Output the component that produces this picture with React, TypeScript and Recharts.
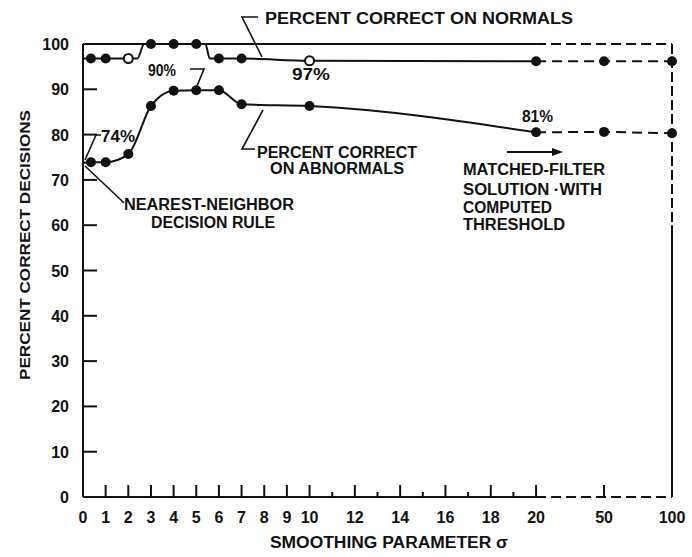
import { ComposedChart, Line, XAxis, YAxis, ReferenceLine } from 'recharts';

// sigma values as printed on the x axis; 20..100 is compressed on the original plot
const sigmaNormals = [0, 0.35, 1, 2, 2.4, 2.7, 3, 4, 5, 5.4, 5.6, 6, 7, 10, 20];
const normals = [96.8, 96.8, 96.8, 96.8, 96.8, 100, 100, 100, 100, 100, 96.8, 96.8, 96.8, 96.3, 96.2];
const normalsMarks = ['', 'f', 'f', 'o', '', '', 'f', 'f', 'f', '', '', 'f', 'f', 'o', 'f'];

const sigmaNormalsMF = [20, 50, 100];
const normalsMF = [96.2, 96.2, 96.2];
const normalsMFMarks = ['', 'f', 'f'];

const sigmaAbnormals = [0, 0.35, 1, 2, 3, 4, 5, 6, 7, 10, 20];
const abnormals = [73.8, 73.9, 73.9, 75.7, 86.3, 89.7, 89.8, 89.8, 86.7, 86.3, 80.5];
const abnormalsMarks = ['', 'f', 'f', 'f', 'f', 'f', 'f', 'f', 'f', 'f', 'f'];

const sigmaAbnormalsMF = [20, 50, 100];
const abnormalsMF = [80.5, 80.6, 80.3];
const abnormalsMFMarks = ['', 'f', 'f'];

const xTicks = [0, 1, 2, 3, 4, 5, 6, 7, 8, 9, 10, 11, 12, 13, 14, 15, 16, 17, 18, 19, 20, 50, 100];
const xTickLabels = ['0', '1', '2', '3', '4', '5', '6', '7', '8', '9', '10', '', '12', '', '14', '', '16', '', '18', '', '20', '50', '100'];
const yTicks = [0, 10, 20, 30, 40, 50, 60, 70, 80, 90, 100];
const yTicksRight = [10, 20, 30, 40, 50, 60, 70, 80, 90];

const W = 692;
const H = 557;
const PL = 83;
const PR = 672;
const PB = 497;
const INK = '#111';
const FONT = '"Liberation Sans", Arial, sans-serif';

// piecewise axis: linear up to 20, then 50 and 100 squeezed in
const toAxis = (s: number) =>
  s <= 20 ? s : s <= 50 ? 20 + ((s - 20) / 30) * 3 : 23 + ((s - 50) / 50) * 3;

const build = (sig: number[], vals: number[], marks: string[]) =>
  sig.map((s, i) => ({ x: toAxis(s), y: vals[i], m: marks[i] }));

const normalsData = build(sigmaNormals, normals, normalsMarks);
const normalsMFData = build(sigmaNormalsMF, normalsMF, normalsMFMarks);
const abnormalsData = build(sigmaAbnormals, abnormals, abnormalsMarks);
const abnormalsMFData = build(sigmaAbnormalsMF, abnormalsMF, abnormalsMFMarks);
const xTickPos = xTicks.map(toAxis);

const renderDot = (props: any) => {
  const { cx, cy, payload, index } = props;
  const k = `d${index}`;
  if (!payload || !payload.m) return <g key={k} />;
  if (payload.m === 'o')
    return <circle key={k} cx={cx} cy={cy} r={4.5} fill="#fff" stroke={INK} strokeWidth={2} />;
  return <circle key={k} cx={cx} cy={cy} r={5} fill={INK} />;
};

const XTick = (props: any) => {
  const { x, payload } = props;
  const i = xTickPos.findIndex((p) => Math.abs(p - payload.value) < 1e-6);
  const label = xTickLabels[i] ?? '';
  const len = label ? 12 : 5;
  return (
    <g>
      {payload.value > 0 && (
        <line x1={x} x2={x} y1={PB} y2={PB - len} stroke={INK} strokeWidth={2} />
      )}
      <text x={x} y={523} textAnchor="middle" fontSize={16} fontWeight={700} fontFamily={FONT} fill={INK}>
        {label}
      </text>
    </g>
  );
};

const YTick = (props: any) => {
  const { y, payload } = props;
  return (
    <g>
      {payload.value > 0 && payload.value < 100 && (
        <line x1={PL} x2={PL + 14} y1={y} y2={y} stroke={INK} strokeWidth={2} />
      )}
      <text x={69} y={y + 6} textAnchor="end" fontSize={16} fontWeight={700} fontFamily={FONT} fill={INK}>
        {payload.value}
      </text>
    </g>
  );
};

const RTick = (props: any) => {
  const { y } = props;
  return <line x1={PR} x2={PR - 12} y1={y} y2={y} stroke={INK} strokeWidth={2} />;
};

const T = ({ x, y, len, children, size = 16 }: any) => (
  <text
    x={x}
    y={y}
    textLength={len}
    lengthAdjust="spacingAndGlyphs"
    fontSize={size}
    fontWeight={700}
    fontFamily={FONT}
    fill={INK}
  >
    {children}
  </text>
);

export default function App() {
  return (
    <div style={{ position: 'absolute', left: 0, top: 0, width: W, height: H, background: '#fff' }}>
      <ComposedChart width={W} height={H} margin={{ top: 44, right: 0, bottom: 30, left: 23 }}>
        <XAxis
          dataKey="x"
          type="number"
          domain={[0, 26]}
          ticks={xTickPos}
          interval={0}
          axisLine={false}
          tickLine={false}
          tick={(p: any) => <XTick {...p} />}
          height={30}
          allowDuplicatedCategory={false}
        />
        <YAxis
          yAxisId="l"
          type="number"
          domain={[0, 100]}
          ticks={yTicks}
          interval={0}
          axisLine={false}
          tickLine={false}
          tick={(p: any) => <YTick {...p} />}
          width={60}
        />
        <YAxis
          yAxisId="r"
          orientation="right"
          type="number"
          domain={[0, 100]}
          ticks={yTicksRight}
          interval={0}
          axisLine={false}
          tickLine={false}
          tick={(p: any) => <RTick {...p} />}
          width={20}
        />

        {/* frame */}
        <ReferenceLine yAxisId="l" segment={[{ x: 0, y: 0 }, { x: 0, y: 100 }]} stroke={INK} strokeWidth={2} />
        <ReferenceLine yAxisId="l" segment={[{ x: 0, y: 0 }, { x: 20, y: 0 }]} stroke={INK} strokeWidth={2} />
        <ReferenceLine yAxisId="l" segment={[{ x: 20, y: 0 }, { x: 26, y: 0 }]} stroke={INK} strokeWidth={2} strokeDasharray="10 5" />
        <ReferenceLine yAxisId="l" segment={[{ x: 0, y: 100 }, { x: 20, y: 100 }]} stroke={INK} strokeWidth={2} />
        <ReferenceLine yAxisId="l" segment={[{ x: 20, y: 100 }, { x: 26, y: 100 }]} stroke={INK} strokeWidth={2} strokeDasharray="10 5" />
        <ReferenceLine yAxisId="l" segment={[{ x: 26, y: 100 }, { x: 26, y: 60 }]} stroke={INK} strokeWidth={2} strokeDasharray="10 4" />
        <ReferenceLine yAxisId="l" segment={[{ x: 26, y: 60 }, { x: 26, y: 0 }]} stroke={INK} strokeWidth={2} />

        <Line yAxisId="l" data={normalsData} dataKey="y" type="monotone" stroke={INK} strokeWidth={2} dot={renderDot} activeDot={false} isAnimationActive={false} />
        <Line yAxisId="l" data={normalsMFData} dataKey="y" type="linear" stroke={INK} strokeWidth={2} strokeDasharray="10 6" dot={renderDot} activeDot={false} isAnimationActive={false} />
        <Line yAxisId="l" data={abnormalsData} dataKey="y" type="monotone" stroke={INK} strokeWidth={2} dot={renderDot} activeDot={false} isAnimationActive={false} />
        <Line yAxisId="l" data={abnormalsMFData} dataKey="y" type="linear" stroke={INK} strokeWidth={2} strokeDasharray="10 6" dot={renderDot} activeDot={false} isAnimationActive={false} />
      </ComposedChart>

      <svg width={W} height={H} style={{ position: 'absolute', left: 0, top: 0, pointerEvents: 'none' }}>
        <g fill="none" stroke={INK} strokeWidth={1.6}>
          <polyline points="258,17 242,17 262,57" />
          <polyline points="190,69 204,69 197,86" />
          <polyline points="101,135 96,135 85,160" />
          <polyline points="255,149 242,149 263,110" />
          <polyline points="85,166 121,200 124,203" />
          <line x1={507} y1={152} x2={554} y2={152} strokeWidth={2} />
        </g>
        <polygon points="552,148 563,152 552,156" fill={INK} />

        <T x={265} y={24} len={308}>PERCENT CORRECT ON NORMALS</T>
        <T x={148} y={76} len={28}>90%</T>
        <T x={292} y={80} len={38}>97%</T>
        <T x={101} y={142} len={34}>74%</T>
        <T x={257} y={158} len={160}>PERCENT CORRECT</T>
        <T x={270} y={174} len={134}>ON ABNORMALS</T>
        <T x={124} y={210} len={170}>NEAREST-NEIGHBOR</T>
        <T x={151} y={228} len={124}>DECISION RULE</T>
        <T x={522} y={122} len={31}>81%</T>
        <T x={463} y={175} len={142}>MATCHED-FILTER</T>
        <T x={463} y={195} len={139}>SOLUTION ·WITH</T>
        <T x={463} y={213} len={89}>COMPUTED</T>
        <T x={463} y={230} len={102}>THRESHOLD</T>
        <T x={270} y={548} len={238}>SMOOTHING PARAMETER σ</T>
        <g transform="rotate(-90, 30, 245)">
          <text
            x={30}
            y={245}
            textAnchor="middle"
            textLength={270}
            lengthAdjust="spacingAndGlyphs"
            fontSize={15}
            fontWeight={700}
            fontFamily={FONT}
            fill={INK}
          >
            PERCENT CORRECT DECISIONS
          </text>
        </g>
      </svg>
    </div>
  );
}
